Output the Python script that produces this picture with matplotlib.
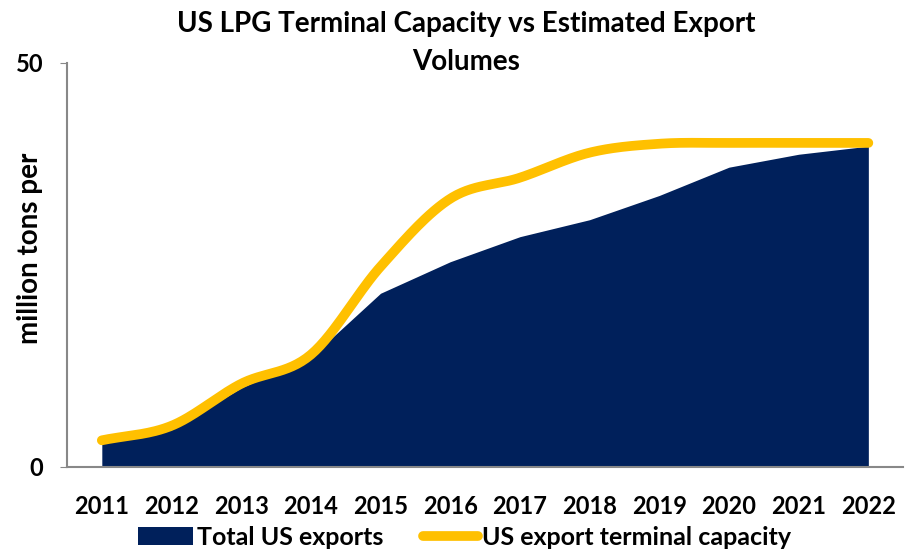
import numpy as np
import matplotlib
matplotlib.use("Agg")
import matplotlib.pyplot as plt
from matplotlib.patches import Patch
from matplotlib.lines import Line2D

plt.rcParams['font.family'] = ['Lato', 'DejaVu Sans']
plt.rcParams['font.weight'] = 'bold'

years = ["2011", "2012", "2013", "2014", "2015", "2016",
         "2017", "2018", "2019", "2020", "2021", "2022"]
# million tons per year
total_exports = [3.0, 4.6, 9.8, 13.6, 21.5, 25.4, 28.5, 30.6, 33.6, 37.1, 38.7, 39.7]
terminal_capacity = [3.3, 5.1, 10.3, 13.9, 24.8, 33.2, 35.8, 38.9, 40.0, 40.1, 40.1, 40.1]

navy = "#00205B"
gold = "#FFC000"


def smooth(x, y, n=30):
    # catmull-rom style smoothing like Excel's "smoothed line"
    x = np.asarray(x, float)
    y = np.asarray(y, float)
    px = np.concatenate([[2 * x[0] - x[1]], x, [2 * x[-1] - x[-2]]])
    py = np.concatenate([[2 * y[0] - y[1]], y, [2 * y[-1] - y[-2]]])
    xs, ys = [], []
    for i in range(1, len(px) - 2):
        t = np.linspace(0, 1, n, endpoint=False)
        for arr, out in ((px, xs), (py, ys)):
            p0, p1, p2, p3 = arr[i - 1], arr[i], arr[i + 1], arr[i + 2]
            out.extend(0.5 * ((2 * p1) + (-p0 + p2) * t
                              + (2 * p0 - 5 * p1 + 4 * p2 - p3) * t ** 2
                              + (-p0 + 3 * p1 - 3 * p2 + p3) * t ** 3))
    xs.append(x[-1])
    ys.append(y[-1])
    return np.array(xs), np.array(ys)


fig = plt.figure(figsize=(9.05, 5.52), dpi=100)
ax = fig.add_axes([0.074, 0.154, 0.924, 0.732])

x = np.arange(len(years))
ax.fill_between(x, total_exports, 0, color=navy, linewidth=0)
sx, sy = smooth(x, terminal_capacity)
ax.plot(sx, sy, color=gold, linewidth=7, solid_capstyle='round')

ax.set_xlim(-0.5, len(years) - 0.5)
ax.set_ylim(0, 50)
ax.set_xticks(x)
ax.set_xticklabels(years)
ax.set_yticks([0, 50])
ax.tick_params(axis='x', length=0, labelsize=17, pad=20)
ax.tick_params(axis='y', length=5, color='#888888', labelsize=17, pad=12)
for lab in ax.get_xticklabels() + ax.get_yticklabels():
    lab.set_fontweight('bold')

for s in ['top', 'right']:
    ax.spines[s].set_visible(False)
for s in ['left', 'bottom']:
    ax.spines[s].set_color('#888888')
    ax.spines[s].set_linewidth(1.5)

fig.text(0.033, 0.55, "million tons per", rotation=90, fontsize=20,
         fontweight='bold', ha='center', va='center')

fig.text(0.515, 0.922, "US LPG Terminal Capacity vs Estimated Export\nVolumes",
         fontsize=20, fontweight='bold', ha='center', va='center',
         linespacing=1.6)

handles = [Patch(facecolor=navy, edgecolor='none'),
           Line2D([0], [0], color=gold, linewidth=7, solid_capstyle='round')]
fig.legend(handles, ["Total US exports", "US export terminal capacity"],
           loc='lower center', bbox_to_anchor=(0.513, -0.035), ncol=2,
           frameon=False, prop={'size': 18, 'weight': 'bold'},
           handlelength=2.2, handletextpad=0.15, columnspacing=1.6)

fig.savefig("out.png", dpi=100)
